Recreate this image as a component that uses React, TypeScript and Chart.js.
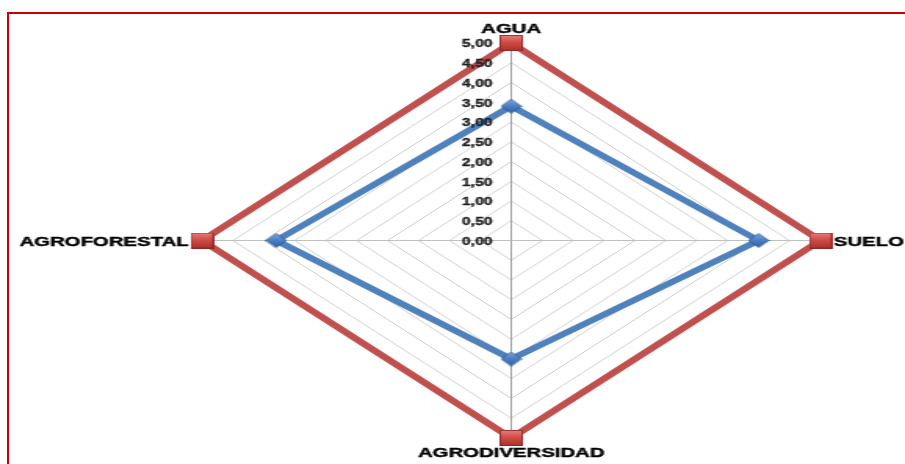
import React, { useEffect, useRef } from 'react';
import { Chart, registerables } from 'chart.js';

Chart.register(...registerables);

// Axes of the evaluation, clockwise from the top
const CATEGORIES = ['AGUA', 'SUELO', 'AGRODIVERSIDAD', 'AGROFORESTAL'];
// Current score per axis
const SCORES = [3.4, 4.0, 3.0, 3.8];
// Reference (maximum) score per axis
const MAXIMUM = [5, 5, 5, 5];
// Radial tick labels, 0 to 5 in steps of 0.5
const TICK_LABELS = ['0,00', '0,50', '1,00', '1,50', '2,00', '2,50', '3,00', '3,50', '4,00', '4,50', '5,00'];

// The chart is drawn on a narrower canvas and widened with CSS,
// which gives the flattened diamond and wide lettering.
const VIEW_W = 905;
const VIEW_H = 464;
const CANVAS_W = 578;
const STRETCH = VIEW_W / CANVAS_W;
const CX = 326.5;
const CY = 240.5;
const RADIUS = 197.5;

const FONT = '"Liberation Sans", Arial, Helvetica, sans-serif';

function makeSquareMarker(w: number, h: number): HTMLCanvasElement {
  const c = document.createElement('canvas');
  c.width = w;
  c.height = h;
  const g = c.getContext('2d')!;
  const grad = g.createLinearGradient(0, 0, 0, h);
  grad.addColorStop(0, '#e8807c');
  grad.addColorStop(0.45, '#d24d48');
  grad.addColorStop(1, '#a9302c');
  g.fillStyle = grad;
  g.fillRect(0, 0, w, h);
  g.strokeStyle = 'rgba(140,35,32,0.8)';
  g.lineWidth = 1;
  g.strokeRect(0.5, 0.5, w - 1, h - 1);
  return c;
}

function makeDiamondMarker(w: number, h: number): HTMLCanvasElement {
  const c = document.createElement('canvas');
  c.width = w;
  c.height = h;
  const g = c.getContext('2d')!;
  const grad = g.createLinearGradient(0, 0, 0, h);
  grad.addColorStop(0, '#7eaae2');
  grad.addColorStop(0.5, '#4a7fc1');
  grad.addColorStop(1, '#2e5f9f');
  g.beginPath();
  g.moveTo(w / 2, 0.5);
  g.lineTo(w - 0.5, h / 2);
  g.lineTo(w / 2, h - 0.5);
  g.lineTo(0.5, h / 2);
  g.closePath();
  g.fillStyle = grad;
  g.fill();
  g.strokeStyle = 'rgba(40,85,145,0.8)';
  g.lineWidth = 1;
  g.stroke();
  return c;
}

function heavyText(ctx: CanvasRenderingContext2D, text: string, x: number, y: number) {
  ctx.fillText(text, x, y);
  ctx.strokeText(text, x, y);
}

// Draws the value labels beside the vertical spoke and the category names
const axisText = {
  id: 'axisText',
  afterDatasetsDraw(chart: any) {
    const r = chart.scales.r;
    const ctx: CanvasRenderingContext2D = chart.ctx;

    ctx.save();
    ctx.font = `bold 10px ${FONT}`;
    ctx.fillStyle = '#1f1f1f';
    ctx.strokeStyle = '#1f1f1f';
    ctx.lineWidth = 0.35;
    ctx.textAlign = 'right';
    ctx.textBaseline = 'middle';
    r.ticks.forEach((t: any) => {
      const y = r.yCenter - r.getDistanceFromCenterForValue(t.value);
      heavyText(ctx, t.label, r.xCenter - 12, y + 1.5);
    });
    ctx.restore();

    const cap = 9.3;
    ctx.save();
    ctx.font = `bold 13px ${FONT}`;
    ctx.fillStyle = '#000000';
    ctx.strokeStyle = '#000000';
    ctx.lineWidth = 0.4;
    ctx.textBaseline = 'alphabetic';
    (chart.data.labels as string[]).forEach((label, i) => {
      const p = r.getPointPosition(i, r.drawingArea);
      const dx = p.x - r.xCenter;
      const dy = p.y - r.yCenter;
      if (Math.abs(dx) < 1) {
        ctx.textAlign = 'center';
        if (dy < 0) heavyText(ctx, label, p.x, p.y - 10);
        else heavyText(ctx, label, p.x, p.y + 10 + cap);
      } else {
        ctx.textAlign = dx > 0 ? 'left' : 'right';
        heavyText(ctx, label, p.x + (dx > 0 ? 8.5 : -8.5), p.y + cap / 2 + 1);
      }
    });
    ctx.restore();
  },
};

export default function App() {
  const canvasRef = useRef<HTMLCanvasElement | null>(null);

  useEffect(() => {
    const canvas = canvasRef.current;
    if (!canvas) return;
    const square = makeSquareMarker(15, 16);
    const diamond = makeDiamondMarker(14, 15);

    const chart = new Chart(canvas, {
      type: 'radar',
      data: {
        labels: CATEGORIES,
        datasets: [
          {
            label: 'Puntuación',
            data: SCORES,
            borderColor: '#4f81bd',
            borderWidth: 5.5,
            backgroundColor: 'transparent',
            fill: false,
            tension: 0,
            pointStyle: diamond as any,
            pointRadius: 7,
          },
          {
            label: 'Máximo',
            data: MAXIMUM,
            borderColor: '#c0504d',
            borderWidth: 5.5,
            backgroundColor: 'transparent',
            fill: false,
            tension: 0,
            pointStyle: square as any,
            pointRadius: 8,
          },
        ],
      },
      options: {
        responsive: false,
        animation: false,
        devicePixelRatio: 1,
        plugins: {
          legend: { display: false },
          tooltip: { enabled: false },
        },
        scales: {
          r: {
            min: 0,
            max: 5,
            startAngle: 0,
            ticks: {
              stepSize: 0.5,
              display: false,
              callback: (_v: any, i: number) => TICK_LABELS[i],
            },
            grid: {
              circular: false,
              color: '#cfcfcf',
              lineWidth: 1,
            },
            angleLines: {
              display: true,
              color: (ctx: any) => (ctx.index % 2 === 0 ? '#a0a0a0' : '#c0c0c0'),
              lineWidth: 1,
            },
            pointLabels: { display: false },
            afterFit: (scale: any) => {
              scale.xCenter = CX;
              scale.yCenter = CY;
              scale.drawingArea = RADIUS;
            },
          } as any,
        },
      },
      plugins: [axisText],
    });

    return () => chart.destroy();
  }, []);

  return (
    <div
      style={{
        position: 'fixed',
        left: 0,
        top: 0,
        width: VIEW_W,
        height: VIEW_H,
        overflow: 'hidden',
        background: '#ffffff',
      }}
    >
      <div
        style={{
          position: 'absolute',
          left: 0,
          top: 0,
          width: CANVAS_W,
          height: VIEW_H,
          transform: `scaleX(${STRETCH})`,
          transformOrigin: '0 0',
        }}
      >
        <canvas ref={canvasRef} width={CANVAS_W} height={VIEW_H} style={{ display: 'block' }} />
      </div>
      <div
        style={{
          position: 'absolute',
          left: 7,
          top: 12,
          width: VIEW_W,
          height: VIEW_H,
          borderLeft: '2px solid #cc0000',
          borderTop: '2px solid #cc0000',
          pointerEvents: 'none',
        }}
      />
    </div>
  );
}
